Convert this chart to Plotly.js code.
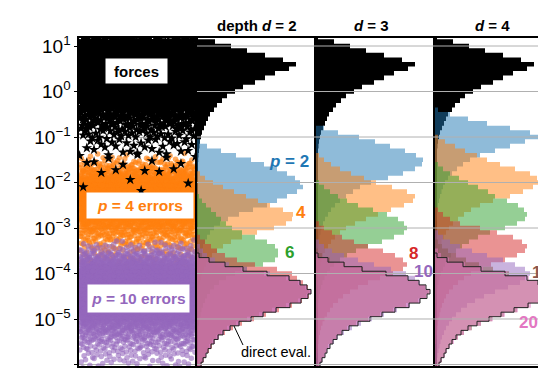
<!DOCTYPE html>
<html><head><meta charset="utf-8">
<script src="https://cdn.plot.ly/plotly-3.0.1.min.js"></script>
<style>html,body{margin:0;padding:0;overflow:hidden;background:#fff}</style>
</head><body><div id="chart" style="width:560px;height:371px"></div>
<script>
// ---------- data (log10 bin centres, 0.1-decade bins, counts going downward) ----------
const BIN = 0.1;
const pValues = [2, 4, 6, 8, 10, 15, 20];
const depthLabels = ['depth <i>d</i> = 2', '<i>d</i> = 3', '<i>d</i> = 4'];
const tickVals = [10, 1, 0.1, 0.01, 1e-3, 1e-4, 1e-5, 1e-6];
const tickText = ['10<sup>1</sup>', '10<sup>0</sup>', '10<sup>\u22121</sup>', '10<sup>\u22122</sup>',
                  '10<sup>\u22123</sup>', '10<sup>\u22124</sup>', '10<sup>\u22125</sup>', '10<sup>\u22126</sup>'];

const forcesTop = 1.1;
const forces = [18, 34, 50, 68, 86, 99, 92, 78, 68, 58, 46, 38, 30, 25, 20, 17, 13, 11, 9, 7, 5, 4, 3, 2.5, 2, 1.5, 1.2, 1, 0.7, 0.5, 0.4, 0.3, 0.2, 0.2, 0.15, 0.1];

const directTop = -3.6;
const directEval = [2, 12, 28, 46, 70, 92, 103, 110, 114, 111, 104, 93, 79, 66, 54, 42, 33, 26, 21, 17, 14, 11, 9, 6, 4, 2];

// depth 2
const d2p2Top = -1.1;
const d2p2 = [3, 10, 24, 39, 54, 67, 80, 90, 98, 103, 106, 100, 90, 80, 70, 56, 42, 31, 23, 17, 13, 10, 8, 6, 5, 4, 3, 2.5, 2, 1.5, 1];
const d2p4Top = -1.8;
const d2p4 = [3, 8, 16, 26, 37, 49, 61, 73, 86, 96, 95, 89, 77, 60, 45, 34, 26, 20, 15, 12, 9, 7, 5, 4, 3, 2, 1.5, 1];
const d2p6Top = -2.3;
const d2p6 = [2, 5, 9, 14, 19, 24, 29, 35, 45, 58, 70, 78, 81, 81, 78, 66, 50, 38, 29, 22, 17, 13, 10, 8, 6, 4.5, 3.5, 2.5, 2, 1.5, 1];
const d2p8Top = -3.2;
const d2p8 = [3, 8, 14, 20, 28, 40, 58, 80, 95, 100, 106, 111, 114, 112, 105, 95, 82, 69, 57, 45, 36, 28, 22, 18, 15, 12, 9, 7, 5, 3];
const d2p10Top = -3.4;
const d2p10 = [3, 6, 10, 18, 32, 50, 73, 93, 104, 110, 114, 111, 104, 93, 80, 67, 55, 43, 34, 27, 22, 18, 14, 11, 9, 6.5, 4.5, 2.5];
const d2p15Top = -3.5;
const d2p15 = [2, 5, 13, 27, 44, 67, 89, 101, 108, 112, 109, 101, 89, 75, 62, 50, 39, 30, 24, 19, 15, 12, 10, 8, 5.5, 3.5, 2];

// depth 3
const d3p2Top = -0.8;
const d3p2 = [8, 22, 43, 59, 74, 89, 100, 107, 106, 99, 87, 72, 55, 44, 37, 30, 24, 19, 15, 12, 9, 7, 5.5, 4.5, 3.5, 3, 2.5, 2, 1.5, 1];
const d3p4Top = -1.4;
const d3p4 = [3, 8, 15, 24, 35, 48, 60, 76, 91, 99, 97, 88, 75, 62, 50, 39, 30, 24, 19, 15, 12, 9, 7, 5.5, 4.5, 3.5, 2.5, 2, 1.5, 1];
const d3p6Top = -2.0;
const d3p6 = [3, 8, 14, 22, 31, 42, 57, 71, 82, 88, 91, 88, 78, 66, 52, 40, 31, 24, 18, 14, 11, 8.5, 6.5, 5, 4, 3, 2.5, 2, 1.5, 1];
const d3p8Top = -2.9;
const d3p8 = [3, 8, 16, 26, 38, 52, 67, 79, 87, 91, 87, 77, 64, 52, 42, 34, 27, 22, 17, 14, 11, 8.5, 6.5, 5, 4, 3, 2.5, 2, 1.5, 1];
const d3p10Top = -3.3;
const d3p10 = [3, 8, 16, 28, 42, 58, 75, 90, 99, 104, 109, 112, 110, 104, 94, 81, 68, 56, 45, 36, 28, 22, 18, 14, 11, 9, 6.5, 4.5, 2.5];
const d3p15Top = -3.5;
const d3p15 = [2, 6, 14, 29, 47, 70, 91, 102, 109, 113, 110, 102, 90, 77, 64, 52, 40, 31, 25, 20, 16, 12, 10, 8, 6, 4, 2];

// depth 4
const d4p2Top = -0.4;
const d4p2 = [3, 15, 33, 52, 75, 95, 108, 90, 75, 60, 45, 35, 28, 22, 17, 13, 10, 8, 6.5, 5, 4, 3, 2.5, 2, 1.5, 1];
const d4p4Top = -1.0;
const d4p4 = [3, 10, 20, 30, 42, 52, 65, 80, 95, 102, 104, 98, 88, 75, 58, 45, 36, 29, 23, 18, 14, 11, 8.5, 6.5, 5, 4, 3, 2.5, 2, 1.5, 1];
const d4p6Top = -1.6;
const d4p6 = [3, 8, 15, 24, 33, 43, 53, 60, 72, 83, 89, 92, 90, 82, 70, 55, 43, 34, 27, 21, 16, 13, 10, 8, 6, 4.5, 3.5, 2.5, 2, 1.5, 1];
const d4p8Top = -2.6;
const d4p8 = [3, 8, 15, 25, 45, 62, 78, 87, 92, 90, 82, 70, 56, 45, 36, 29, 23, 18, 14, 11, 9, 7, 5.5, 4.5, 3.5, 3, 2.5, 2, 1.5, 1];
const d4p10Top = -3.1;
const d4p10 = [3, 8, 15, 25, 37, 52, 68, 80, 90, 95, 92, 85, 73, 60, 49, 40, 32, 26, 21, 17, 14, 11, 9, 7, 5.5, 4.5, 3.5, 2.5, 2, 1.5];
const d4p15Top = -3.3;
const d4p15 = [3, 7, 13, 21, 31, 44, 58, 74, 90, 103, 110, 112, 110, 104, 94, 82, 69, 57, 46, 37, 29, 23, 18, 14, 11, 9, 6.5, 4.5, 2.5];
const d4p20Top = -3.5;
const d4p20 = [3, 6, 14, 30, 48, 72, 94, 105, 112, 116, 114, 107, 96, 83, 70, 58, 46, 36, 29, 23, 19, 15, 12, 10, 7, 5, 3];

// ---------- styling / layout helpers ----------
const colors = ['#1f77b4', '#ff7f0e', '#2ca02c', '#d62728', '#9467bd', '#8c564b', '#e377c2'];
function rgba(hex, a) {
  const n = parseInt(hex.slice(1), 16);
  return 'rgba(' + (n >> 16) + ',' + ((n >> 8) & 255) + ',' + (n & 255) + ',' + a + ')';
}
const W = 560, H = 371, L = 79, R = 6, T = 38, B = 5;
const PW = W - L - R, PH = H - T - B;
const px = v => (v - L) / PW;
const py = v => (T + PH - v) / PH;
const YMIN = -6.033, YMAX = 1.176;
const domains = [[px(79), px(196)], [px(197), px(316)], [px(316), px(435)], [px(435), px(554)]];

function stepPath(top, counts) {
  const xs = [0], ys = [Math.pow(10, top + BIN / 2)];
  counts.forEach((v, i) => {
    const c = top - i * BIN;
    xs.push(v, v);
    ys.push(Math.pow(10, c + BIN / 2), Math.pow(10, c - BIN / 2));
  });
  xs.push(0);
  ys.push(Math.pow(10, top - (counts.length - 1) * BIN - BIN / 2));
  return { xs, ys };
}

// scatter samples: number of points per bin follows the histogram counts,
// spread over the particle index (x) and inside the bin (y) with a Halton sequence
function halton(i, b) { let f = 1, r = 0; while (i > 0) { f /= b; r += f * (i % b); i = Math.floor(i / b); } return r; }
function samples(top, counts, k, start, bx, by) {
  const xs = [], ys = [];
  let carry = 0, seq = start;
  counts.forEach((v, i) => {
    carry += v * k;
    const n = Math.floor(carry);
    carry -= n;
    const c = top - i * BIN;
    for (let j = 0; j < n; j++) {
      seq++;
      xs.push(0.005 + 0.99 * halton(seq, bx));
      ys.push(Math.pow(10, c - BIN / 2 + BIN * halton(seq, by)));
    }
  });
  return { xs, ys };
}

const traces = [];
// ---------- scatter panel ----------
const sOr = samples(d3p4Top, d3p4, 2.6, 17, 2, 3);
const sPu = samples(d3p10Top, d3p10, 2.4, 4099, 3, 2);
const sFo = samples(forcesTop, forces, 3.6, 911, 2, 5);
traces.push({ type: 'scatter', mode: 'markers', x: sOr.xs, y: sOr.ys, xaxis: 'x', yaxis: 'y', hoverinfo: 'skip',
  marker: { size: 5.5, color: colors[1], opacity: 0.65, line: { width: 0 } } });
traces.push({ type: 'scatter', mode: 'markers', x: sPu.xs, y: sPu.ys, xaxis: 'x', yaxis: 'y', hoverinfo: 'skip',
  marker: { size: 5.5, color: colors[4], opacity: 0.6, line: { width: 0 } } });
traces.push({ type: 'scatter', mode: 'markers', x: sFo.xs, y: sFo.ys, xaxis: 'x', yaxis: 'y', hoverinfo: 'skip',
  marker: { size: 8, symbol: 'star', color: '#000', line: { width: 0 } } });

// ---------- histogram panels ----------
const panelSeries = [
  [[d2p2Top, d2p2], [d2p4Top, d2p4], [d2p6Top, d2p6], [d2p8Top, d2p8], [d2p10Top, d2p10], [d2p15Top, d2p15], [directTop, directEval]],
  [[d3p2Top, d3p2], [d3p4Top, d3p4], [d3p6Top, d3p6], [d3p8Top, d3p8], [d3p10Top, d3p10], [d3p15Top, d3p15], [directTop, directEval]],
  [[d4p2Top, d4p2], [d4p4Top, d4p4], [d4p6Top, d4p6], [d4p8Top, d4p8], [d4p10Top, d4p10], [d4p15Top, d4p15], [d4p20Top, d4p20]]
];
panelSeries.forEach((series, pi) => {
  const xa = 'x' + (pi + 2), ya = 'y' + (pi + 2);
  const f = stepPath(forcesTop, forces);
  traces.push({ type: 'scatter', mode: 'lines', x: f.xs, y: f.ys, xaxis: xa, yaxis: ya, fill: 'toself',
    fillcolor: '#000', line: { width: 0 }, hoverinfo: 'skip' });
  series.forEach((s, si) => {
    const p = stepPath(s[0], s[1]);
    traces.push({ type: 'scatter', mode: 'lines', x: p.xs, y: p.ys, xaxis: xa, yaxis: ya, fill: 'toself',
      fillcolor: rgba(colors[si], 0.5), line: { width: 0 }, hoverinfo: 'skip', name: 'p=' + pValues[si] });
  });
  const d = stepPath(directTop, directEval);
  traces.push({ type: 'scatter', mode: 'lines', x: d.xs, y: d.ys, xaxis: xa, yaxis: ya,
    line: { width: 1, color: '#222' }, hoverinfo: 'skip' });
});

// ---------- axes ----------
const FONT = 'Liberation Sans, Arial, Helvetica, sans-serif';
const layout = {
  width: W, height: H, margin: { l: L, r: R, t: T, b: B }, showlegend: false,
  paper_bgcolor: '#fff', plot_bgcolor: '#fff', font: { family: FONT, color: '#000' },
  annotations: [], shapes: []
};
for (let i = 0; i < 4; i++) {
  const s = i === 0 ? '' : String(i + 1);
  layout['xaxis' + s] = { domain: domains[i], range: i === 0 ? [0, 1] : [0, 119], showticklabels: false,
    showgrid: false, zeroline: false, ticks: '', showline: true, mirror: true, linecolor: '#000', linewidth: 1.6,
    anchor: 'y' + s, fixedrange: true };
  layout['yaxis' + s] = { type: 'log', range: [YMIN, YMAX], domain: [0, 1], anchor: 'x' + s,
    tickvals: tickVals, ticktext: tickText, showticklabels: i === 0, ticks: i === 0 ? 'outside' : '',
    ticklen: 3, tickcolor: '#000', tickfont: { size: 19, family: FONT, color: '#000' },
    showgrid: i === 0, gridcolor: '#b0b0b0', gridwidth: 1, zeroline: false,
    showline: true, mirror: true, linecolor: '#000', linewidth: 1.6, fixedrange: true };
}
// grid lines drawn over the histogram fills
for (let i = 1; i < 4; i++) {
  for (let k = -6; k <= 1; k++) {
    const yy = (k - YMIN) / (YMAX - YMIN);
    layout.shapes.push({ type: 'line', xref: 'paper', yref: 'paper', x0: domains[i][0], x1: domains[i][1],
      y0: yy, y1: yy, layer: 'above', line: { color: '#b0b0b0', width: 1 } });
  }
}
// pointer for "direct eval."
layout.shapes.push({ type: 'line', xref: 'paper', yref: 'paper', x0: px(243), y0: py(345), x1: px(234), y1: py(326),
  layer: 'above', line: { color: '#000', width: 1 } });

function ann(text, x, y, size, color, extra) {
  layout.annotations.push(Object.assign({ text: text, x: px(x), y: py(y), xref: 'paper', yref: 'paper',
    xanchor: 'center', yanchor: 'middle', showarrow: false, font: { size: size, color: color, family: FONT } }, extra || {}));
}
ann('<b>' + depthLabels[0] + '</b>', 257, 25, 15, '#000');
ann('<b>' + depthLabels[1] + '</b>', 371, 25, 15, '#000');
ann('<b>' + depthLabels[2] + '</b>', 492, 25, 15, '#000');

ann('<b>forces</b>', 136.5, 71, 15, '#000', { bgcolor: '#fff', width: 57, height: 20, borderpad: 2 });
ann('<b><i>p</i> = 4 errors</b>', 140, 205.5, 15.5, colors[1], { bgcolor: '#fff', width: 102, height: 21, borderpad: 2 });
ann('<b><i>p</i> = 10 errors</b>', 138, 298.5, 15.5, colors[4], { bgcolor: '#fff', width: 97, height: 23, borderpad: 2 });

ann('<b><i>p</i> = ' + pValues[0] + '</b>', 289, 161, 17, colors[0]);
ann('<b>' + pValues[1] + '</b>', 301, 212, 17, colors[1]);
ann('<b>' + pValues[2] + '</b>', 289, 252, 17, colors[2]);
ann('<b>' + pValues[3] + '</b>', 413, 253, 17, colors[3]);
ann('<b>' + pValues[4] + '</b>', 423, 271, 17, colors[4]);
ann('<b>' + pValues[5] + '</b>', 541, 272, 17, colors[5]);
ann('<b>' + pValues[6] + '</b>', 528, 322, 17, colors[6]);
ann('direct eval.', 276, 352, 14.5, '#000');

Plotly.newPlot('chart', traces, layout, { staticPlot: true, displayModeBar: false });
</script></body></html>
